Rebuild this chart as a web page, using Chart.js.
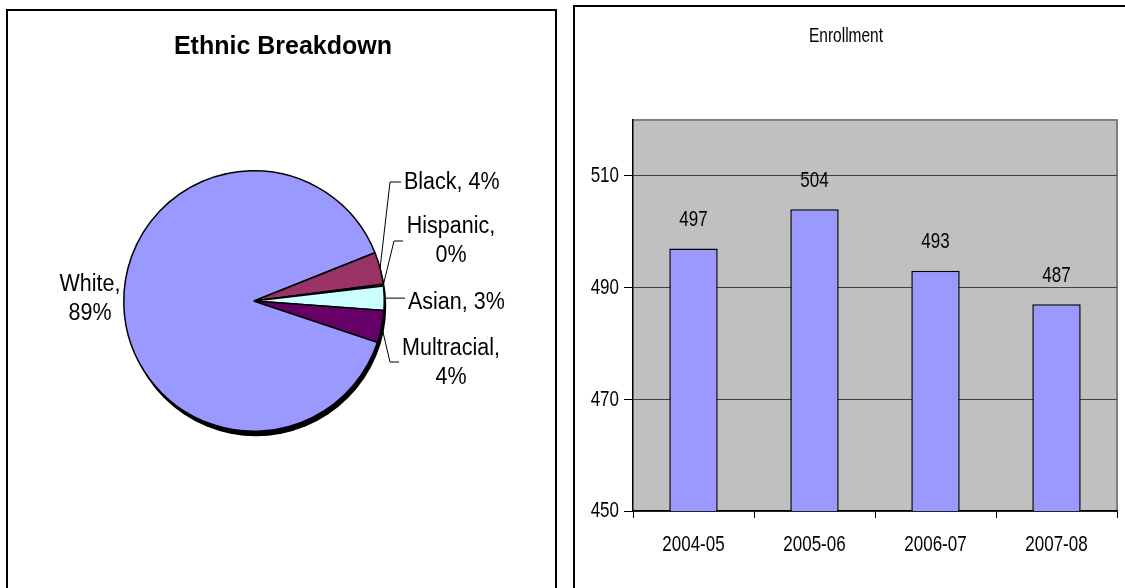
<!DOCTYPE html>
<html><head><meta charset="utf-8">
<script src="https://cdn.jsdelivr.net/npm/chart.js@4.4.1/dist/chart.umd.min.js"></script>
<style>
html,body{margin:0;padding:0;background:#fff;overflow:hidden;width:1125px;height:588px;}
#lp{position:absolute;left:6px;top:9px;width:547px;height:600px;border:2px solid #000;}
#rp{position:absolute;left:573px;top:5px;width:570px;height:600px;border:2px solid #000;}
.box{position:absolute;left:0;top:0;}
</style></head><body>
<div id="lp"><div class="box" style="width:547px;height:580px"><canvas id="pie"></canvas></div></div>
<div id="rp"><div class="box" style="width:550px;height:581px"><canvas id="bar"></canvas></div></div>
<script>
// ---- data ----
const pieLabels = ['White', 'Black', 'Hispanic', 'Asian', 'Multracial'];
const pieValues = [89, 4, 0.2, 3, 4];
const pieColors = ['#9999FF', '#993366', '#FFFFCC', '#CCFFFF', '#660066'];

const years = ['2004-05', '2005-06', '2006-07', '2007-08'];
const enrollment = [497, 504, 493, 487];
const yMin = 450, yMax = 520, yStep = 20;

const FONT = "'Liberation Sans', Arial, sans-serif";

// text in the original is drawn slightly tall; stretch glyphs vertically
function stretchText(canvas, k) {
  const ctx = canvas.getContext('2d');
  const proto = CanvasRenderingContext2D.prototype.fillText;
  ctx.fillText = function (text, x, y, maxWidth) {
    this.save();
    this.translate(x, y);
    this.scale(1, k);
    if (maxWidth === undefined) proto.call(this, text, 0, 0);
    else proto.call(this, text, 0, 0, maxWidth);
    this.restore();
  };
}

// label layout for pie (offsets from pie centre, px) - style only
const pieLabelLayout = [
  {x: -164, y: -2, align: 'center', wrap: true},
  {x: 150, y: -119, align: 'left', wrap: false, elbow: [136, -119], end: [147, -119]},
  {x: 197, y: -60, align: 'center', wrap: true, elbow: [140, -60], end: [149, -60]},
  {x: 154, y: 1, align: 'left', wrap: false, end: [151, 1]},
  {x: 197, y: 62, align: 'center', wrap: true, elbow: [136, 61], end: [145, 61]}
];

const pieExtras = {
  id: 'pieExtras',
  beforeDatasetsDraw(chart) {
    const arc = chart.getDatasetMeta(0).data[0];
    const ctx = chart.ctx;
    ctx.save();
    ctx.fillStyle = '#000';
    ctx.beginPath();
    ctx.arc(arc.x + 2, arc.y + 5, arc.outerRadius, 0, Math.PI * 2);
    ctx.fill();
    ctx.restore();
  },
  afterDatasetsDraw(chart) {
    const meta = chart.getDatasetMeta(0);
    const data = chart.data.datasets[0].data;
    const total = data.reduce((a, b) => a + b, 0);
    const ctx = chart.ctx;
    ctx.save();
    ctx.font = '21.5px ' + FONT;
    ctx.fillStyle = '#000';
    ctx.strokeStyle = '#000';
    ctx.lineWidth = 1;
    ctx.textBaseline = 'middle';
    meta.data.forEach((arc, i) => {
      const L = pieLabelLayout[i];
      const cx = arc.x, cy = arc.y;
      const pct = Math.round(data[i] / total * 100) + '%';
      const name = chart.data.labels[i];
      const lines = L.wrap ? [name + ',', pct] : [name + ', ' + pct];
      if (L.end) {
        const mid = (arc.startAngle + arc.endAngle) / 2;
        const sx = cx + Math.cos(mid) * arc.outerRadius;
        const sy = cy + Math.sin(mid) * arc.outerRadius;
        ctx.beginPath();
        ctx.moveTo(sx, sy);
        if (L.elbow) ctx.lineTo(cx + L.elbow[0], cy + L.elbow[1]);
        ctx.lineTo(cx + L.end[0], L.elbow ? cy + L.end[1] : sy);
        ctx.stroke();
      }
      ctx.textAlign = L.align;
      const lh = 29;
      const y0 = cy + L.y - (lines.length - 1) * lh / 2;
      lines.forEach((t, k) => {
        ctx.save();
        ctx.translate(cx + L.x, y0 + k * lh);
        ctx.scale(1, 1.12);
        ctx.fillText(t, 0, 0);
        ctx.restore();
      });
    });
    ctx.restore();
  }
};

new Chart(document.getElementById('pie'), {
  type: 'pie',
  data: {
    labels: pieLabels,
    datasets: [{data: pieValues, backgroundColor: pieColors, borderColor: '#000', borderWidth: 1.5}]
  },
  options: {
    responsive: true, maintainAspectRatio: false, animation: false,
    rotation: 108.5,
    layout: {padding: {left: 108, right: 163, top: 0, bottom: 159}},
    plugins: {
      legend: {display: false}, tooltip: {enabled: false},
      title: {display: true, text: 'Ethnic Breakdown', color: '#000', align: 'end',
        font: {family: FONT, size: 25, weight: 'bold'}, padding: {top: 21, bottom: 108}}
    }
  },
  plugins: [pieExtras]
});

const barExtras = {
  id: 'barExtras',
  beforeDraw(chart) {
    const a = chart.chartArea, ctx = chart.ctx;
    ctx.save();
    ctx.fillStyle = '#C0C0C0';
    ctx.fillRect(a.left, a.top, a.right - a.left, a.bottom - a.top);
    ctx.strokeStyle = '#808080';
    ctx.lineWidth = 2;
    ctx.beginPath();
    ctx.moveTo(a.left, a.top); ctx.lineTo(a.right, a.top); ctx.lineTo(a.right, a.bottom);
    ctx.stroke();
    ctx.restore();
  },
  afterDatasetsDraw(chart) {
    const meta = chart.getDatasetMeta(0), ctx = chart.ctx;
    const vals = chart.data.datasets[0].data;
    ctx.save();
    ctx.font = '17px ' + FONT;
    ctx.fillStyle = '#000';
    ctx.textAlign = 'center';
    ctx.textBaseline = 'middle';
    meta.data.forEach((b, i) => ctx.fillText(String(vals[i]), b.x, b.y - 29));
    ctx.restore();
  }
};

const barCanvas = document.getElementById('bar');
stretchText(barCanvas, 1.35);

new Chart(barCanvas, {
  type: 'bar',
  data: {
    labels: years,
    datasets: [{data: enrollment, backgroundColor: '#9999FF', borderColor: '#000', borderWidth: 1.5,
      barPercentage: 0.4, categoryPercentage: 1.0}]
  },
  options: {
    responsive: true, maintainAspectRatio: false, animation: false,
    layout: {padding: {left: 0, right: 8, top: 0, bottom: 0}},
    plugins: {
      legend: {display: false}, tooltip: {enabled: false},
      title: {display: true, text: 'Enrollment', color: '#000',
        font: {family: FONT, size: 15.5, weight: 'normal'}, padding: {top: 19.7, bottom: 74.7}}
    },
    scales: {
      x: {
        grid: {offset: true, drawOnChartArea: false, drawTicks: true, tickLength: 7, tickColor: '#000'},
        border: {display: true, color: '#000', width: 1.5},
        ticks: {color: '#000', font: {family: FONT, size: 17}, padding: 16},
        afterFit(axis) { axis.height = 77; }
      },
      y: {
        min: yMin, max: yMax,
        grid: {color: '#404040', lineWidth: 1, tickLength: 9, tickColor: '#000'},
        border: {display: true, color: '#000', width: 1.5},
        ticks: {stepSize: yStep, color: '#000', font: {family: FONT, size: 17}, padding: 5},
        afterBuildTicks(axis) {
          const t = [];
          for (let v = yMin; v < yMax; v += yStep) t.push({value: v});
          axis.ticks = t;
        },
        afterFit(axis) { axis.width = 58; }
      }
    }
  },
  plugins: [barExtras]
});
</script>
</body></html>
